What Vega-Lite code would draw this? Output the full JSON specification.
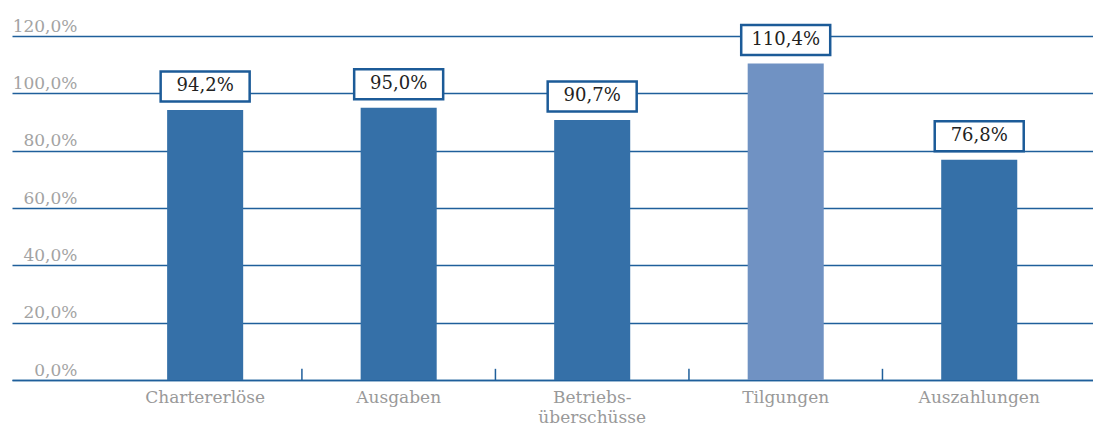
{
  "$schema": "https://vega.github.io/schema/vega-lite/v6.json",
  "width": 1081,
  "height": 344,
  "autosize": {"type": "none"},
  "padding": {"left": 12, "top": 36, "right": 0, "bottom": 46},
  "background": "white",
  "config": {
    "view": {"stroke": null},
    "font": "DejaVu Serif"
  },
  "data": {
    "values": [
      {"kategorie": "Chartererlöse", "wert": 94.2},
      {"kategorie": "Ausgaben", "wert": 95.0},
      {"kategorie": "Betriebs-überschüsse", "wert": 90.7},
      {"kategorie": "Tilgungen", "wert": 110.4},
      {"kategorie": "Auszahlungen", "wert": 76.8}
    ]
  },
  "transform": [
    {"calculate": "replace(format(datum.wert, '.1f'), '.', ',') + '%'", "as": "label"}
  ],
  "encoding": {
    "x": {
      "field": "kategorie",
      "type": "nominal",
      "sort": null,
      "scale": {"paddingInner": 0, "paddingOuter": 0.293, "align": 0.85},
      "axis": {
        "title": null,
        "labelAngle": 0,
        "labelFont": "DejaVu Serif",
        "labelFontSize": 17,
        "labelColor": "#999999",
        "labelPadding": 9,
        "labelLineHeight": 20,
        "labelExpr": "indexof(datum.label, '-') > 0 ? [slice(datum.label, 0, indexof(datum.label, '-') + 1), slice(datum.label, indexof(datum.label, '-') + 1)] : datum.label",
        "domain": true,
        "domainColor": "#1f5f9b",
        "domainWidth": 1.5,
        "ticks": false,
        "tickSize": 0,
        "grid": false
      }
    },
    "y": {
      "field": "wert",
      "type": "quantitative",
      "scale": {"domain": [0, 120], "nice": false},
      "axis": {
        "title": null,
        "values": [0, 20, 40, 60, 80, 100, 120],
        "labelExpr": "replace(format(datum.value, '.1f'), '.', ',') + '%'",
        "labelFont": "DejaVu Serif",
        "labelFontSize": 17,
        "labelColor": "#a3a3a3",
        "labelAlign": "right",
        "labelBaseline": "alphabetic",
        "labelOffset": -5,
        "labelPadding": -65,
        "ticks": false,
        "tickSize": 0,
        "domain": false,
        "grid": true,
        "gridColor": "#1f5f9b",
        "gridWidth": 1.5
      }
    }
  },
  "layer": [
    {
      "mark": {"type": "bar", "width": {"band": 0.393}},
      "encoding": {
        "color": {
          "condition": {"test": "datum.kategorie == 'Tilgungen'", "value": "#7092c3"},
          "value": "#3570a8"
        }
      }
    },
    {
      "transform": [{"filter": "datum.kategorie != 'Auszahlungen'"}],
      "mark": {"type": "rule", "color": "#1f5f9b", "strokeWidth": 1.5},
      "encoding": {
        "x": {"field": "kategorie", "type": "nominal", "sort": null, "bandPosition": 1},
        "y": {"datum": 0},
        "y2": {"datum": 3.9}
      }
    },
    {
      "mark": {
        "type": "point",
        "shape": "M-1,-0.337H1V0.337H-1Z",
        "size": 7921,
        "filled": true,
        "fill": "white",
        "stroke": "#1c5b98",
        "strokeWidth": 2.5,
        "opacity": 1,
        "yOffset": -23.5
      }
    },
    {
      "mark": {
        "type": "text",
        "font": "DejaVu Serif",
        "fontSize": 18,
        "color": "#222222",
        "baseline": "middle",
        "align": "center",
        "yOffset": -23.5
      },
      "encoding": {"text": {"field": "label"}}
    }
  ]
}
